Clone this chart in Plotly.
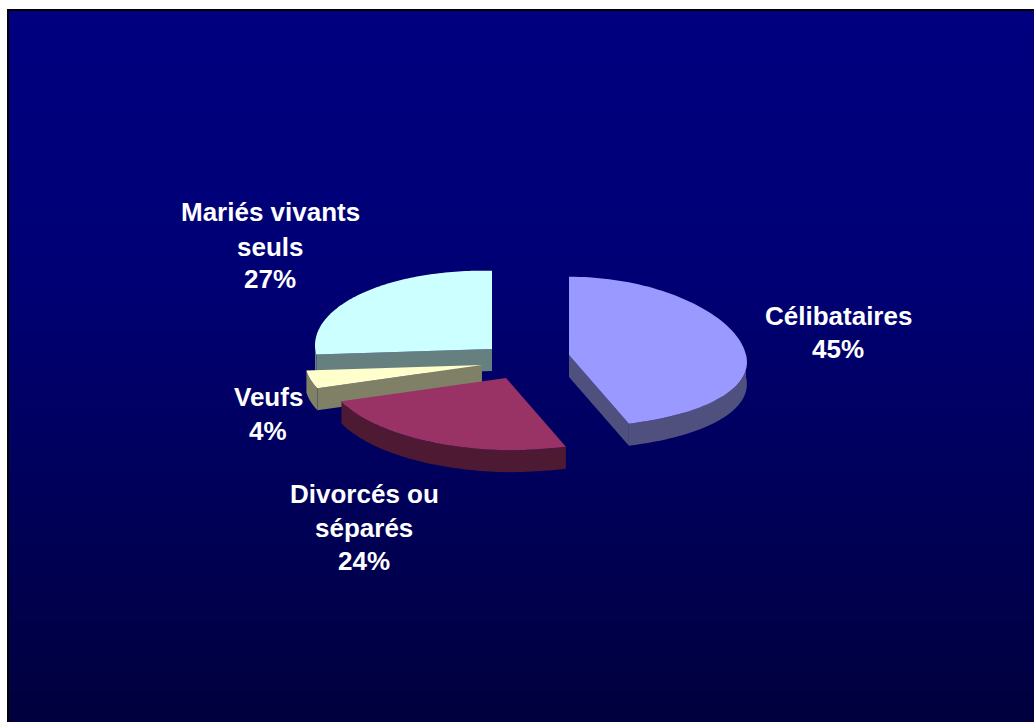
import numpy as np
import plotly.graph_objects as go

# Data
categories = ["Célibataires", "Divorcés ou séparés", "Veufs", "Mariés vivants seuls"]
values = [45, 24, 4, 27]
label_lines = [["Célibataires", "45%"], ["Divorcés ou", "séparés", "24%"], ["Veufs", "4%"],
               ["Mariés vivants", "seuls", "27%"]]
top_colors = ["#9999FF", "#993366", "#FFFFCC", "#CCFFFF"]
side_colors = ["#50507F", "#4D1933", "#808066", "#668080"]

# Exploded centre of each slice on the canvas, tilt radii, wall depth (pixels on the axes)
centres = [(569, 355), (506, 378), (482, 365), (492, 349)]
RX, RY, DEPTH = 177, 76, 22
label_x = [838, 364, 268, 270]
label_y = [[316, 349], [494, 528, 561], [397, 431], [212, 247, 279]]

W, H = 1034, 722
fig = go.Figure()

# gradient background, drawn as one column of bands
grad_y = [11, 280, 722]
grad_z = [128, 116, 62]
edges_y = np.linspace(11, H, 121)
mids = (edges_y[:-1] + edges_y[1:]) / 2
zs = np.interp(mids, grad_y, grad_z)
fig.add_trace(go.Heatmap(x=[9, W], y=edges_y, z=[[v] for v in zs], zmin=0, zmax=255, showscale=False,
                         colorscale=[[0, "#000000"], [1, "#0000FF"]], hoverinfo="skip"))


def pt(c, a, dz=0):
    r = np.radians(a)
    dx, dy = RX * np.sin(r), -RY * np.cos(r)
    # slight perspective of the tilted pie
    xs = dx * np.where(dx > 0, 1 + 0.1 * dy / RY, 1)
    ys = dy * np.where(dy > 0, 0.95, 1.03) + 0.02 * np.minimum(dx, 0)
    return c[0] + xs, c[1] + ys + dz


edges = np.cumsum([0] + values) * 3.6
order = [3, 2, 1, 0]
# which radial cut faces of each slice look towards the viewer
cuts = {0: [edges[1]], 1: [], 2: [edges[2]], 3: [edges[3]]}
for i in order:
    a0, a1 = edges[i], edges[i + 1]
    c = centres[i]
    ang = np.linspace(a0, a1, 90)
    # outer wall, visible part
    lo, hi = max(a0, 90), min(a1, 270)
    if hi > lo:
        w = np.linspace(lo, hi, 60)
        xt, yt = pt(c, w)
        xb, yb = pt(c, w[::-1], DEPTH)
        fig.add_trace(go.Scatter(x=np.r_[xt, xb], y=np.r_[yt, yb], fill="toself", mode="none",
                                 fillcolor=side_colors[i], hoverinfo="skip"))
    # cut walls
    for a in cuts[i]:
        ex, ey = pt(c, a)
        fig.add_trace(go.Scatter(x=[c[0], ex, ex, c[0]], y=[c[1], ey, ey + DEPTH, c[1] + DEPTH],
                                 fill="toself", mode="none", fillcolor=side_colors[i], hoverinfo="skip"))
    # top
    xt, yt = pt(c, ang)
    fig.add_trace(go.Scatter(x=np.r_[c[0], xt], y=np.r_[c[1], yt], fill="toself", mode="none",
                             fillcolor=top_colors[i], hoverinfo="skip"))

for lines, lx, lys in zip(label_lines, label_x, label_y):
    for t, ly in zip(lines, lys):
        fig.add_annotation(x=lx, y=ly, text=t, showarrow=False, xanchor="center", yanchor="middle",
                           font=dict(family="Liberation Sans", size=26, color="#FFFFFF", weight="bold"))

fig.update_layout(
    width=W, height=H, margin=dict(l=0, r=0, t=0, b=0), showlegend=False,
    paper_bgcolor="#FFFFFF", plot_bgcolor="#FFFFFF",
    xaxis=dict(range=[0, W], visible=False, fixedrange=True),
    yaxis=dict(range=[H, 0], visible=False, fixedrange=True),
    shapes=[dict(type="rect", x0=7, x1=W, y0=9, y1=H, line_width=0, fillcolor="#000000", layer="below")],
)
fig.write_html("out.html", config={"displayModeBar": False},
               post_script="document.body.style.margin='0';document.body.style.overflow='hidden';")
